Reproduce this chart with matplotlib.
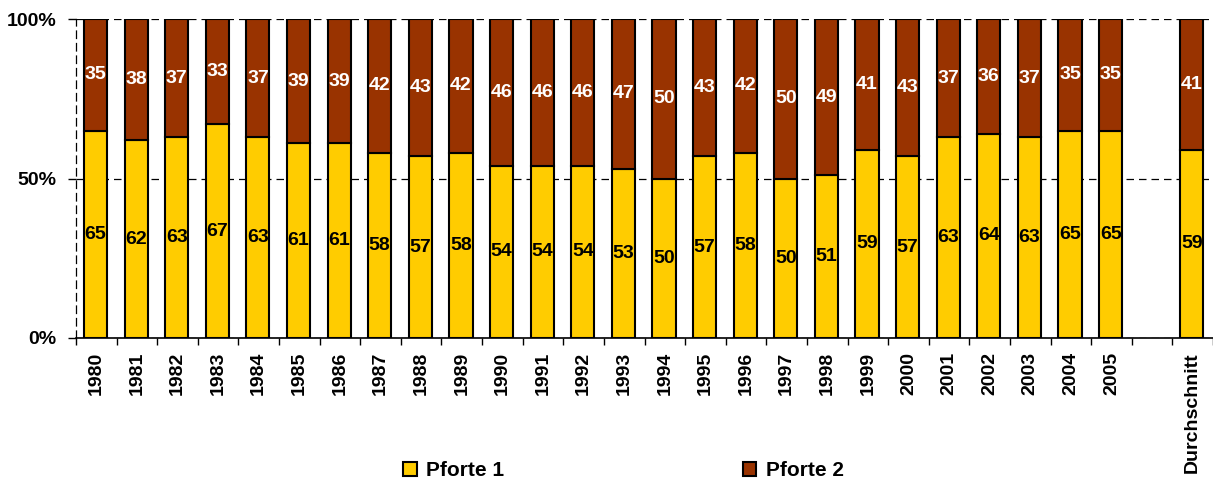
import numpy as np
import matplotlib
matplotlib.use('Agg')
import matplotlib.pyplot as plt
from matplotlib.ticker import FixedLocator

plt.rcParams['font.family'] = ['Liberation Sans', 'DejaVu Sans']
plt.rcParams['font.weight'] = 'bold'

# Data (share in %)
categories = ['1980', '1981', '1982', '1983', '1984', '1985', '1986', '1987', '1988',
              '1989', '1990', '1991', '1992', '1993', '1994', '1995', '1996', '1997',
              '1998', '1999', '2000', '2001', '2002', '2003', '2004', '2005', '',
              'Durchschnitt']
pforte1 = [65, 62, 63, 67, 63, 61, 61, 58, 57, 58, 54, 54, 54, 53, 50, 57, 58, 50,
           51, 59, 57, 63, 64, 63, 65, 65, None, 59]
pforte2 = [35, 38, 37, 33, 37, 39, 39, 42, 43, 42, 46, 46, 46, 47, 50, 43, 42, 50,
           49, 41, 43, 37, 36, 37, 35, 35, None, 41]
series_names = ['Pforte 1', 'Pforte 2']
colors = ['#FFCC00', '#993300']

x = np.arange(len(categories))
idx = [i for i, v in enumerate(pforte1) if v is not None]
p1 = np.array([pforte1[i] for i in idx], dtype=float)
p2 = np.array([pforte2[i] for i in idx], dtype=float)
tot = p1 + p2
s1 = p1 / tot
s2 = p2 / tot
xs = x[idx] - 0.02

fig = plt.figure(figsize=(12.13, 4.83), dpi=100)
ax = fig.add_axes([76 / 1213, 1 - 338 / 483, (1213 - 76) / 1213, (338 - 19) / 483])

w = 0.57
b1 = ax.bar(xs, s1, w, color=colors[0], edgecolor='black', linewidth=1.5,
            label=series_names[0], zorder=3)
b2 = ax.bar(xs, s2, w, bottom=s1, color=colors[1], edgecolor='black', linewidth=1.5,
            label=series_names[1], zorder=3)

for xi, a, b, v1, v2 in zip(xs, s1, s2, p1, p2):
    ax.text(xi, a / 2, f'{int(v1)}', ha='center', va='center', fontsize=14,
            fontweight='bold', color='black', zorder=4)
    ax.text(xi, a + b / 2, f'{int(v2)}', ha='center', va='center', fontsize=14,
            fontweight='bold', color='white', zorder=4)

ax.set_xlim(-0.5, len(categories) - 0.5)
ax.set_ylim(0, 1)
ax.set_yticks([0, 0.5, 1])
ax.set_yticklabels(['0%', '50%', '100%'], fontsize=14, fontweight='bold')
ax.yaxis.grid(True, linestyle=(0, (6, 4)), color='black', linewidth=0.9)
ax.set_axisbelow(True)

ax.set_xticks(x)
ax.set_xticklabels(categories, rotation=90, fontsize=14, fontweight='bold', va='top')
ax.xaxis.set_minor_locator(FixedLocator(np.arange(-0.5, len(categories), 1)))
ax.tick_params(axis='x', which='major', length=0, pad=10)
ax.tick_params(axis='x', which='minor', length=5, width=1, direction='out')
ax.tick_params(axis='y', length=6, width=1, pad=8)

for s in ['top', 'right']:
    ax.spines[s].set_visible(False)
ax.spines['left'].set_linestyle((0, (6, 4)))
ax.spines['left'].set_linewidth(0.9)
ax.spines['bottom'].set_linewidth(1.2)

fig.legend(handles=[b1, b2], labels=series_names, loc='center',
           bbox_to_anchor=(0.514, 0.025), ncol=2, frameon=False,
           prop={'size': 15, 'weight': 'bold'}, handlelength=0.65, handleheight=0.65,
           handletextpad=0.45, columnspacing=11.45)

fig.savefig('out.png', dpi=100)
